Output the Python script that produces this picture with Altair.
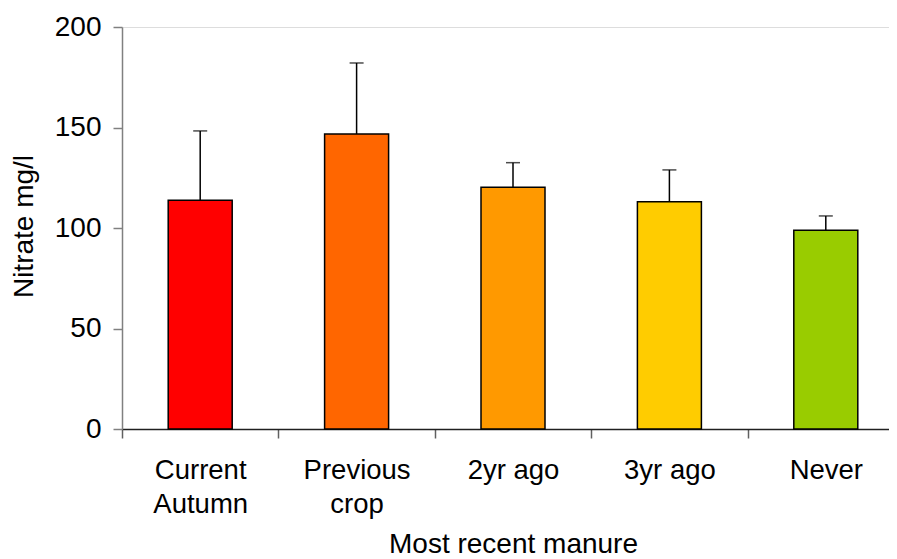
import altair as alt
import pandas as pd

categories = ["Current Autumn", "Previous crop", "2yr ago", "3yr ago", "Never"]
means = [113.8, 146.8, 120.3, 113.1, 98.9]
uppers = [148.3, 182.1, 132.5, 128.9, 106.0]
colors = ["#FF0000", "#FF6600", "#FF9900", "#FFCC00", "#99CC00"]

df = pd.DataFrame({"cat": categories, "mean": means, "upper": uppers, "color": colors})

FONT = "Liberation Sans"

x_enc = alt.X(
    "cat:N",
    sort=categories,
    scale=alt.Scale(paddingInner=0, paddingOuter=0, range=[0, 782]),
    axis=alt.Axis(
        title="Most recent manure",
        labelExpr="datum.label == 'Current Autumn' ? ['Current','Autumn'] : datum.label == 'Previous crop' ? ['Previous','crop'] : datum.label",
        labelAngle=0,
        labelFontSize=27.5,
        labelFont=FONT,
        labelColor="black",
        labelBaseline="alphabetic",
        labelLineHeight=34,
        labelPadding=40,
        tickBand="extent",
        tickSize=9,
        tickColor="#606060",
        tickWidth=1.5,
        domainColor="#202020",
        domainWidth=1.5,
        titleFont=FONT,
        titleFontSize=28,
        titleFontWeight="normal",
        titleColor="black",
        titleX=391,
        titleY=123,
        titleBaseline="alphabetic",
        titleAlign="center",
    ),
)

y_scale = alt.Scale(domain=[0, 200], nice=False)
y_axis = alt.Axis(
    title="Nitrate mg/l",
    values=[0, 50, 100, 150, 200],
    grid=False,
    labelFontSize=28,
    labelFont=FONT,
    labelColor="black",
    labelPadding=12,
    tickSize=9,
    tickColor="#808080",
    tickWidth=1.5,
    domainColor="#808080",
    domainWidth=1.5,
    titleFont=FONT,
    titleFontSize=28,
    titleFontWeight="normal",
    titleColor="black",
    titleX=-98,
    titleY=199,
    titleAngle=270,
    titleAlign="center",
    titleBaseline="middle",
)

bars = alt.Chart(df).mark_bar(size=64, stroke="black", strokeWidth=1.5).encode(
    x=x_enc,
    y=alt.Y("mean:Q", scale=y_scale, axis=y_axis),
    color=alt.Color("color:N", scale=None),
)

rules = alt.Chart(df).mark_rule(color="black", strokeWidth=1.5).encode(
    x=alt.X("cat:N", sort=categories),
    y=alt.Y("mean:Q"),
    y2="upper:Q",
)

caps = alt.Chart(df).mark_tick(color="black", thickness=1.5, size=14, orient="horizontal").encode(
    x=alt.X("cat:N", sort=categories),
    y=alt.Y("upper:Q"),
)

chart = alt.layer(bars, rules, caps).properties(
    width=767,
    height=402,
    autosize=alt.AutoSizeParams(type="none"),
    padding={"left": 114, "top": 19, "right": 0, "bottom": 130},
).configure_view(stroke=None).configure(background="white")

chart.save("out.html", embed_options={"renderer": "svg", "actions": False})
